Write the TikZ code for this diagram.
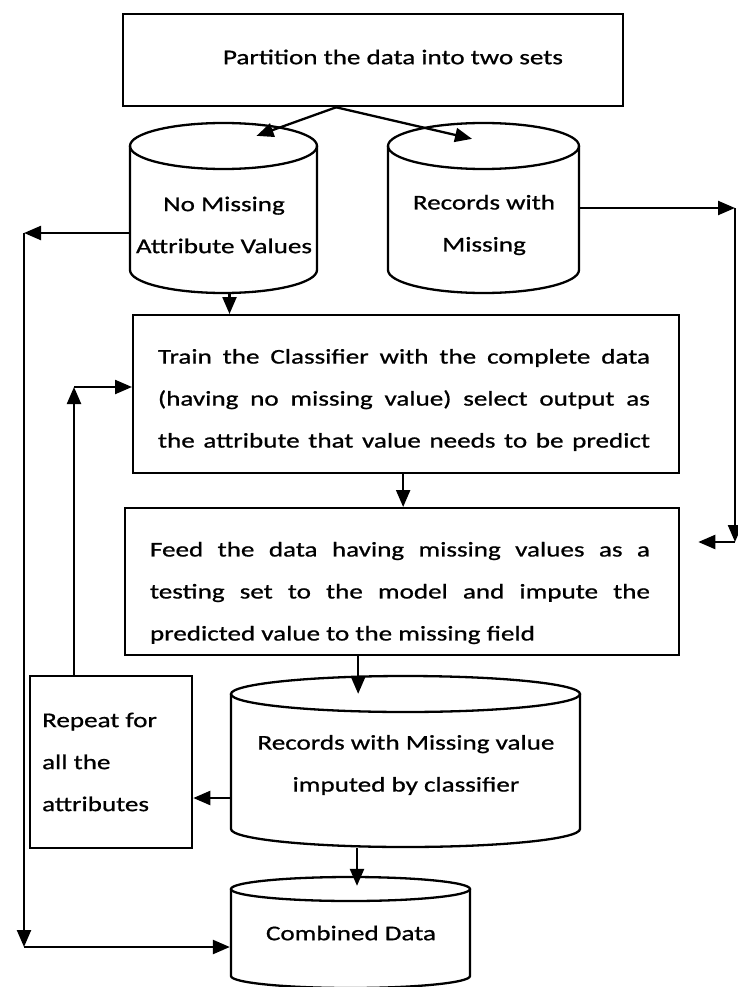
\documentclass[tikz,border=0pt]{standalone}
\usepackage{fontspec}
\setmainfont{Carlito}[FakeStretch=1.29,FakeBold=0.8]
\usetikzlibrary{arrows.meta,fit,calc}
\newcommand\dbcyl[6]{%
  \pgfmathsetmacro\cylcx{(#2+#3)/2}%
  \pgfmathsetmacro\cylrx{(#3-#2)/2}%
  \pgfmathsetmacro\cylct{#4+#6}%
  \pgfmathsetmacro\cylcb{#5-#6}%
  \coordinate (#1-nw) at (#2,#4);
  \coordinate (#1-se) at (#3,#5);
  \node[fit=(#1-nw)(#1-se),inner sep=0pt] (#1) {};
  \draw (#2,\cylct) -- (#2,\cylcb) arc[start angle=180,end angle=360,x radius=\cylrx pt,y radius=#6pt] -- (#3,\cylct);
  \draw (\cylcx,\cylct) ellipse[x radius=\cylrx pt,y radius=#6pt];
}
\begin{document}
\begin{tikzpicture}[x=1pt,y=-1pt,line width=2.3pt,
  arr/.style={-{Triangle[length=17pt,width=14pt]}},
  box/.style={draw,line width=2.3pt,inner sep=0pt,anchor=north west},
  txt/.style={font=\fontsize{21}{42}\selectfont,align=center,inner sep=0pt}]
\useasboundingbox[fill=white] (0,0) rectangle (737,987);
% top box
\node[box,minimum width=500pt,minimum height=92pt] (top) at (122,13) {};
\node[txt] (toptxt) at (393,57) {Partition the data into two sets};
% cylinders
\dbcyl{nomiss}{130}{317}{123}{293}{23}
\node[txt] (nomisstxt) at (224,225) {No Missing\\Attribute Values};
\dbcyl{recmiss}{388}{579}{123}{293}{23}
\node[txt] (recmisstxt) at (484,225) {Records with\\Missing};
% train
\node[box,minimum width=546pt,minimum height=158pt] (train) at (132,314) {};
\node[txt,align=left] (traintxt) at (404,400) {\makebox[492pt][s]{Train the Classifier with the complete data}\\
\makebox[492pt][s]{(having no missing value) select output as}\\
\makebox[492pt][s]{the attribute that value needs to be predict}};
% feed
\node[box,minimum width=554pt,minimum height=147pt] (feed) at (124,507) {};
\node[txt,align=left] (feedtxt) at (400,593) {\makebox[500pt][s]{Feed the data having missing values as a}\\
\makebox[500pt][s]{testing set to the model and impute the}\\
\makebox[500pt][l]{predicted value to the missing field}};
% imputed
\dbcyl{imputed}{231}{580}{676}{847}{18}
\node[txt] (imputedtxt) at (406,765) {Records with Missing value\\imputed by classifier};
% repeat
\node[box,minimum width=162pt,minimum height=172pt] (repeatbox) at (29,675) {};
\node[txt,align=left,anchor=west] (repeattxt) at (41,762) {Repeat for\\all the\\attributes};
% combined
\dbcyl{combined}{231}{470}{877}{988}{12}
\node[txt] (combinedtxt) at (351,933) {Combined Data};
% connectors
\coordinate (tsplit) at ([xshift=-37pt]top.south);
\draw[arr] (tsplit) -- ([xshift=33pt,yshift=-14pt]nomiss.north);
\draw[arr] (tsplit) -- ([xshift=-11.5pt,yshift=-17pt]recmiss.north);
\coordinate (L1) at (24,233);
\coordinate (L2) at (24,947);
\draw[arr] (nomiss.west |- L1) -- (L1);
\draw[arr] (L1) -- (L2);
\draw[arr] (L2) -- (L2 -| combined.west);
\coordinate (n1) at ([xshift=6pt]nomiss.south);
\draw[arr] (n1) -- (n1 |- train.north);
\coordinate (R1) at (735,208);
\coordinate (R2) at (735,542);
\draw[arr] (recmiss.east) -- (R1);
\draw[arr] (R1) -- (R2);
\draw[arr,shorten >=18pt] (R2) -- (R2 -| feed.east);
\coordinate (a1) at ([xshift=-3pt]train.south);
\draw[arr] (a1) -- (a1 |- feed.north);
\coordinate (a2) at ([xshift=-44pt]feed.south);
\draw[arr] (a2) -- ($(a2 |- imputed.north)+(0,19)$);
\coordinate (a3) at ([yshift=-36.5pt]imputed.west);
\draw[arr] (a3) -- (a3 -| repeatbox.east);
\coordinate (r1) at (74,387);
\draw[arr] (r1 |- repeatbox.north) -- (r1);
\draw[arr] (r1) -- (r1 -| train.west);
\coordinate (a4) at ([xshift=-48.5pt]imputed.south);
\draw[arr] (a4) -- ($(a4 |- combined.north)+(0,10)$);
\end{tikzpicture}
\end{document}
